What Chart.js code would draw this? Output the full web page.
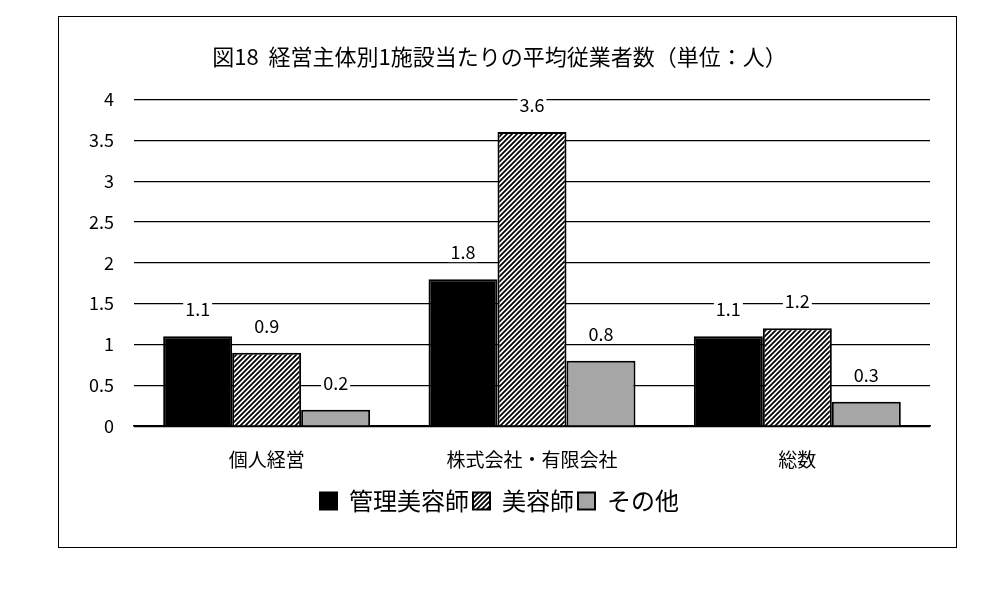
<!DOCTYPE html>
<html><head><meta charset="utf-8">
<script src="https://cdn.jsdelivr.net/npm/chart.js@4"></script>
<style>
body{margin:0;background:#fff;}
#box{position:absolute;left:58px;top:16px;width:897px;height:530px;border:1.5px solid #000;}
</style></head><body>
<div id="box"><canvas id="c" width="897" height="530"></canvas></div>
<script>
const FONT = "'Noto Sans CJK JP', 'Noto Sans', sans-serif";
const categories = ["個人経営", "株式会社・有限会社", "総数"];
const seriesNames = ["管理美容師", "美容師", "その他"];
const kanri = [1.1, 1.8, 1.1];
const biyoushi = [0.9, 3.6, 1.2];
const sonota = [0.2, 0.8, 0.3];
const yTicks = [0, 0.5, 1, 1.5, 2, 2.5, 3, 3.5, 4];

// Diagonal hatch fill for the second series.
const makeHatch = () => {
  const p = document.createElement("canvas");
  p.width = 5; p.height = 5;
  const g = p.getContext("2d");
  g.fillStyle = "#fff"; g.fillRect(0, 0, 5, 5);
  g.strokeStyle = "#000"; g.lineWidth = 1.8;
  g.beginPath();
  g.moveTo(-1, 6); g.lineTo(6, -1);
  g.moveTo(-1, 1); g.lineTo(1, -1);
  g.moveTo(4, 6); g.lineTo(6, 4);
  g.stroke();
  return g.createPattern(p, "repeat");
};
const hatch = makeHatch();

// Value labels above each bar, on a white patch over the gridlines.
const valueLabels = {
  id: "valueLabels",
  afterDatasetsDraw(chart) {
    const ctx = chart.ctx;
    ctx.save();
    ctx.font = "18px " + FONT;
    ctx.textAlign = "center";
    ctx.textBaseline = "middle";
    chart.data.datasets.forEach((ds, i) => {
      chart.getDatasetMeta(i).data.forEach((bar, j) => {
        const t = ds.data[j].toFixed(1);
        const y = bar.y - 27;
        const w = ctx.measureText(t).width;
        ctx.fillStyle = "#fff";
        ctx.fillRect(bar.x - w / 2 - 2, y - 10, w + 4, 20);
        ctx.fillStyle = "#000";
        ctx.fillText(t, bar.x, y);
      });
    });
    ctx.restore();
  },
};

new Chart(document.getElementById("c"), {
  type: "bar",
  data: {
    labels: categories,
    datasets: [
      { label: seriesNames[0], data: kanri, backgroundColor: "#000" },
      { label: seriesNames[1], data: biyoushi, backgroundColor: hatch },
      { label: seriesNames[2], data: sonota, backgroundColor: "#a6a6a6" },
    ].map((d) => ({ ...d, borderColor: "#000", borderWidth: 2, categoryPercentage: 0.78, barPercentage: 1 })),
  },
  options: {
    responsive: false,
    animation: false,
    layout: { padding: { left: 10, right: 26, top: 6, bottom: 24 } },
    plugins: {
      title: { display: true, text: "図18  経営主体別1施設当たりの平均従業者数（単位：人）", color: "#000", font: { family: FONT, size: 22, weight: "normal" }, padding: { top: 20, bottom: 30 } },
      legend: {
        position: "bottom",
        labels: { color: "#000", font: { family: FONT, size: 24 }, boxWidth: 17, boxHeight: 17, padding: 4 },
      },
      tooltip: { enabled: false },
    },
    scales: {
      x: {
        grid: { display: false },
        border: { color: "#000", width: 1.5 },
        ticks: { color: "#000", font: { family: FONT, size: 19 }, padding: 14 },
      },
      y: {
        min: 0, max: 4,
        afterBuildTicks: (s) => { s.ticks = yTicks.map((v) => ({ value: v })); },
        grid: { color: "#000", lineWidth: 1.2, drawTicks: false },
        border: { display: false },
        ticks: { color: "#000", font: { family: FONT, size: 18 }, padding: 20, callback: (v) => String(v) },
      },
    },
  },
  plugins: [valueLabels],
});
</script></body></html>
